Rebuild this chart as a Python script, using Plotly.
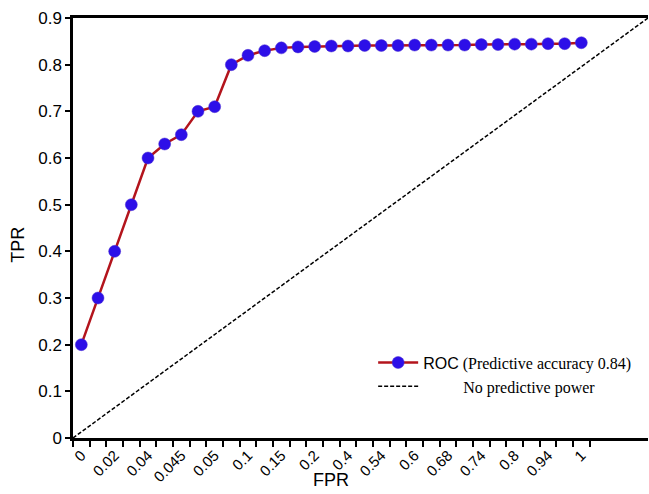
import plotly.graph_objects as go

# ---- data ----
fpr_labels = ["0", "0.02", "0.04", "0.045", "0.05", "0.1", "0.15", "0.2", "0.4",
              "0.54", "0.6", "0.68", "0.74", "0.8", "0.94", "1"]
tpr = [0.2, 0.3, 0.4, 0.5, 0.6, 0.63, 0.65, 0.70, 0.71, 0.80,
       0.82, 0.83, 0.836, 0.838, 0.839, 0.84, 0.84, 0.841, 0.841, 0.841,
       0.842, 0.842, 0.842, 0.842, 0.843, 0.843, 0.844, 0.844, 0.845, 0.845, 0.847]
diag_x = [0, 1]
diag_y = [0, 1]
y_ticks = [0, 0.1, 0.2, 0.3, 0.4, 0.5, 0.6, 0.7, 0.8, 0.9]
y_ticktext = ["0", "0.1", "0.2", "0.3", "0.4", "0.5", "0.6", "0.7", "0.8", "0.9"]

x_idx = list(range(len(tpr)))
label_pos = x_idx[::2]
boundaries = [i - 0.5 for i in range(len(tpr) + 1)]

serif = "font-family:'Liberation Serif', 'Times New Roman', serif;"

fig = go.Figure()

fig.add_trace(go.Scatter(
    x=x_idx, y=tpr, mode="lines+markers",
    name='ROC<span style="' + serif + '">&nbsp;(Predictive accuracy 0.84)</span>',
    line=dict(color="#b3141c", width=2.5),
    marker=dict(color="#2d0fe8", size=12, line=dict(color="#4a2fd0", width=0.5)),
    xaxis="x", yaxis="y",
))

fig.add_trace(go.Scatter(
    x=diag_x, y=diag_y, mode="lines",
    name='<span style="' + serif + '">' + "&nbsp;" * 10 + 'No predictive power</span>',
    line=dict(color="black", width=1.5, dash="4px,2px"),
    xaxis="x2", yaxis="y2", cliponaxis=False,
))

fig.update_layout(
    width=649, height=494,
    margin=dict(l=73, r=1, t=18, b=56, autoexpand=False),
    plot_bgcolor="white", paper_bgcolor="white",
    font=dict(family="Liberation Sans, Arial, sans-serif", color="black", size=15),
    showlegend=True,
    legend=dict(x=0.522, y=0.22, xanchor="left", yanchor="top",
                bgcolor="rgba(0,0,0,0)", font=dict(size=16, family="Liberation Sans, Arial"),
                itemwidth=40, tracegroupgap=0),
    xaxis=dict(
        range=[-0.5, 34.0], showgrid=False, zeroline=False, automargin=False,
        showline=True, linecolor="black", linewidth=2.5, mirror=True,
        tickmode="array", tickvals=label_pos, ticktext=fpr_labels,
        ticks="", tickangle=-45, tickfont=dict(size=15),
        minor=dict(tickmode="array", tickvals=boundaries, ticks="outside",
                   ticklen=6, tickwidth=1.5, tickcolor="black", showgrid=False),
    ),
    yaxis=dict(
        range=[0, 0.9], showgrid=False, zeroline=False, automargin=False,
        showline=True, linecolor="black", linewidth=2.5,
        tickmode="array", tickvals=y_ticks, ticktext=y_ticktext,
        ticks="outside", ticklen=5, tickwidth=1.5, tickcolor="black",
        tickfont=dict(size=17),
    ),
    xaxis2=dict(range=[0, 1], overlaying="x", visible=False, automargin=False),
    yaxis2=dict(range=[0, 1], overlaying="y", visible=False, automargin=False),
    annotations=[
        dict(text="TPR", xref="paper", yref="paper", x=-0.0957, y=0.46,
             textangle=-90, showarrow=False, font=dict(size=18),
             xanchor="center", yanchor="middle"),
        dict(text="FPR", xref="paper", yref="paper", x=0.449, y=-0.1,
             showarrow=False, font=dict(size=18),
             xanchor="center", yanchor="middle"),
    ],
)

fig.write_html("out.html", config={"displayModeBar": False},
               post_script="document.body.style.margin='0';document.body.style.overflow='hidden';")
